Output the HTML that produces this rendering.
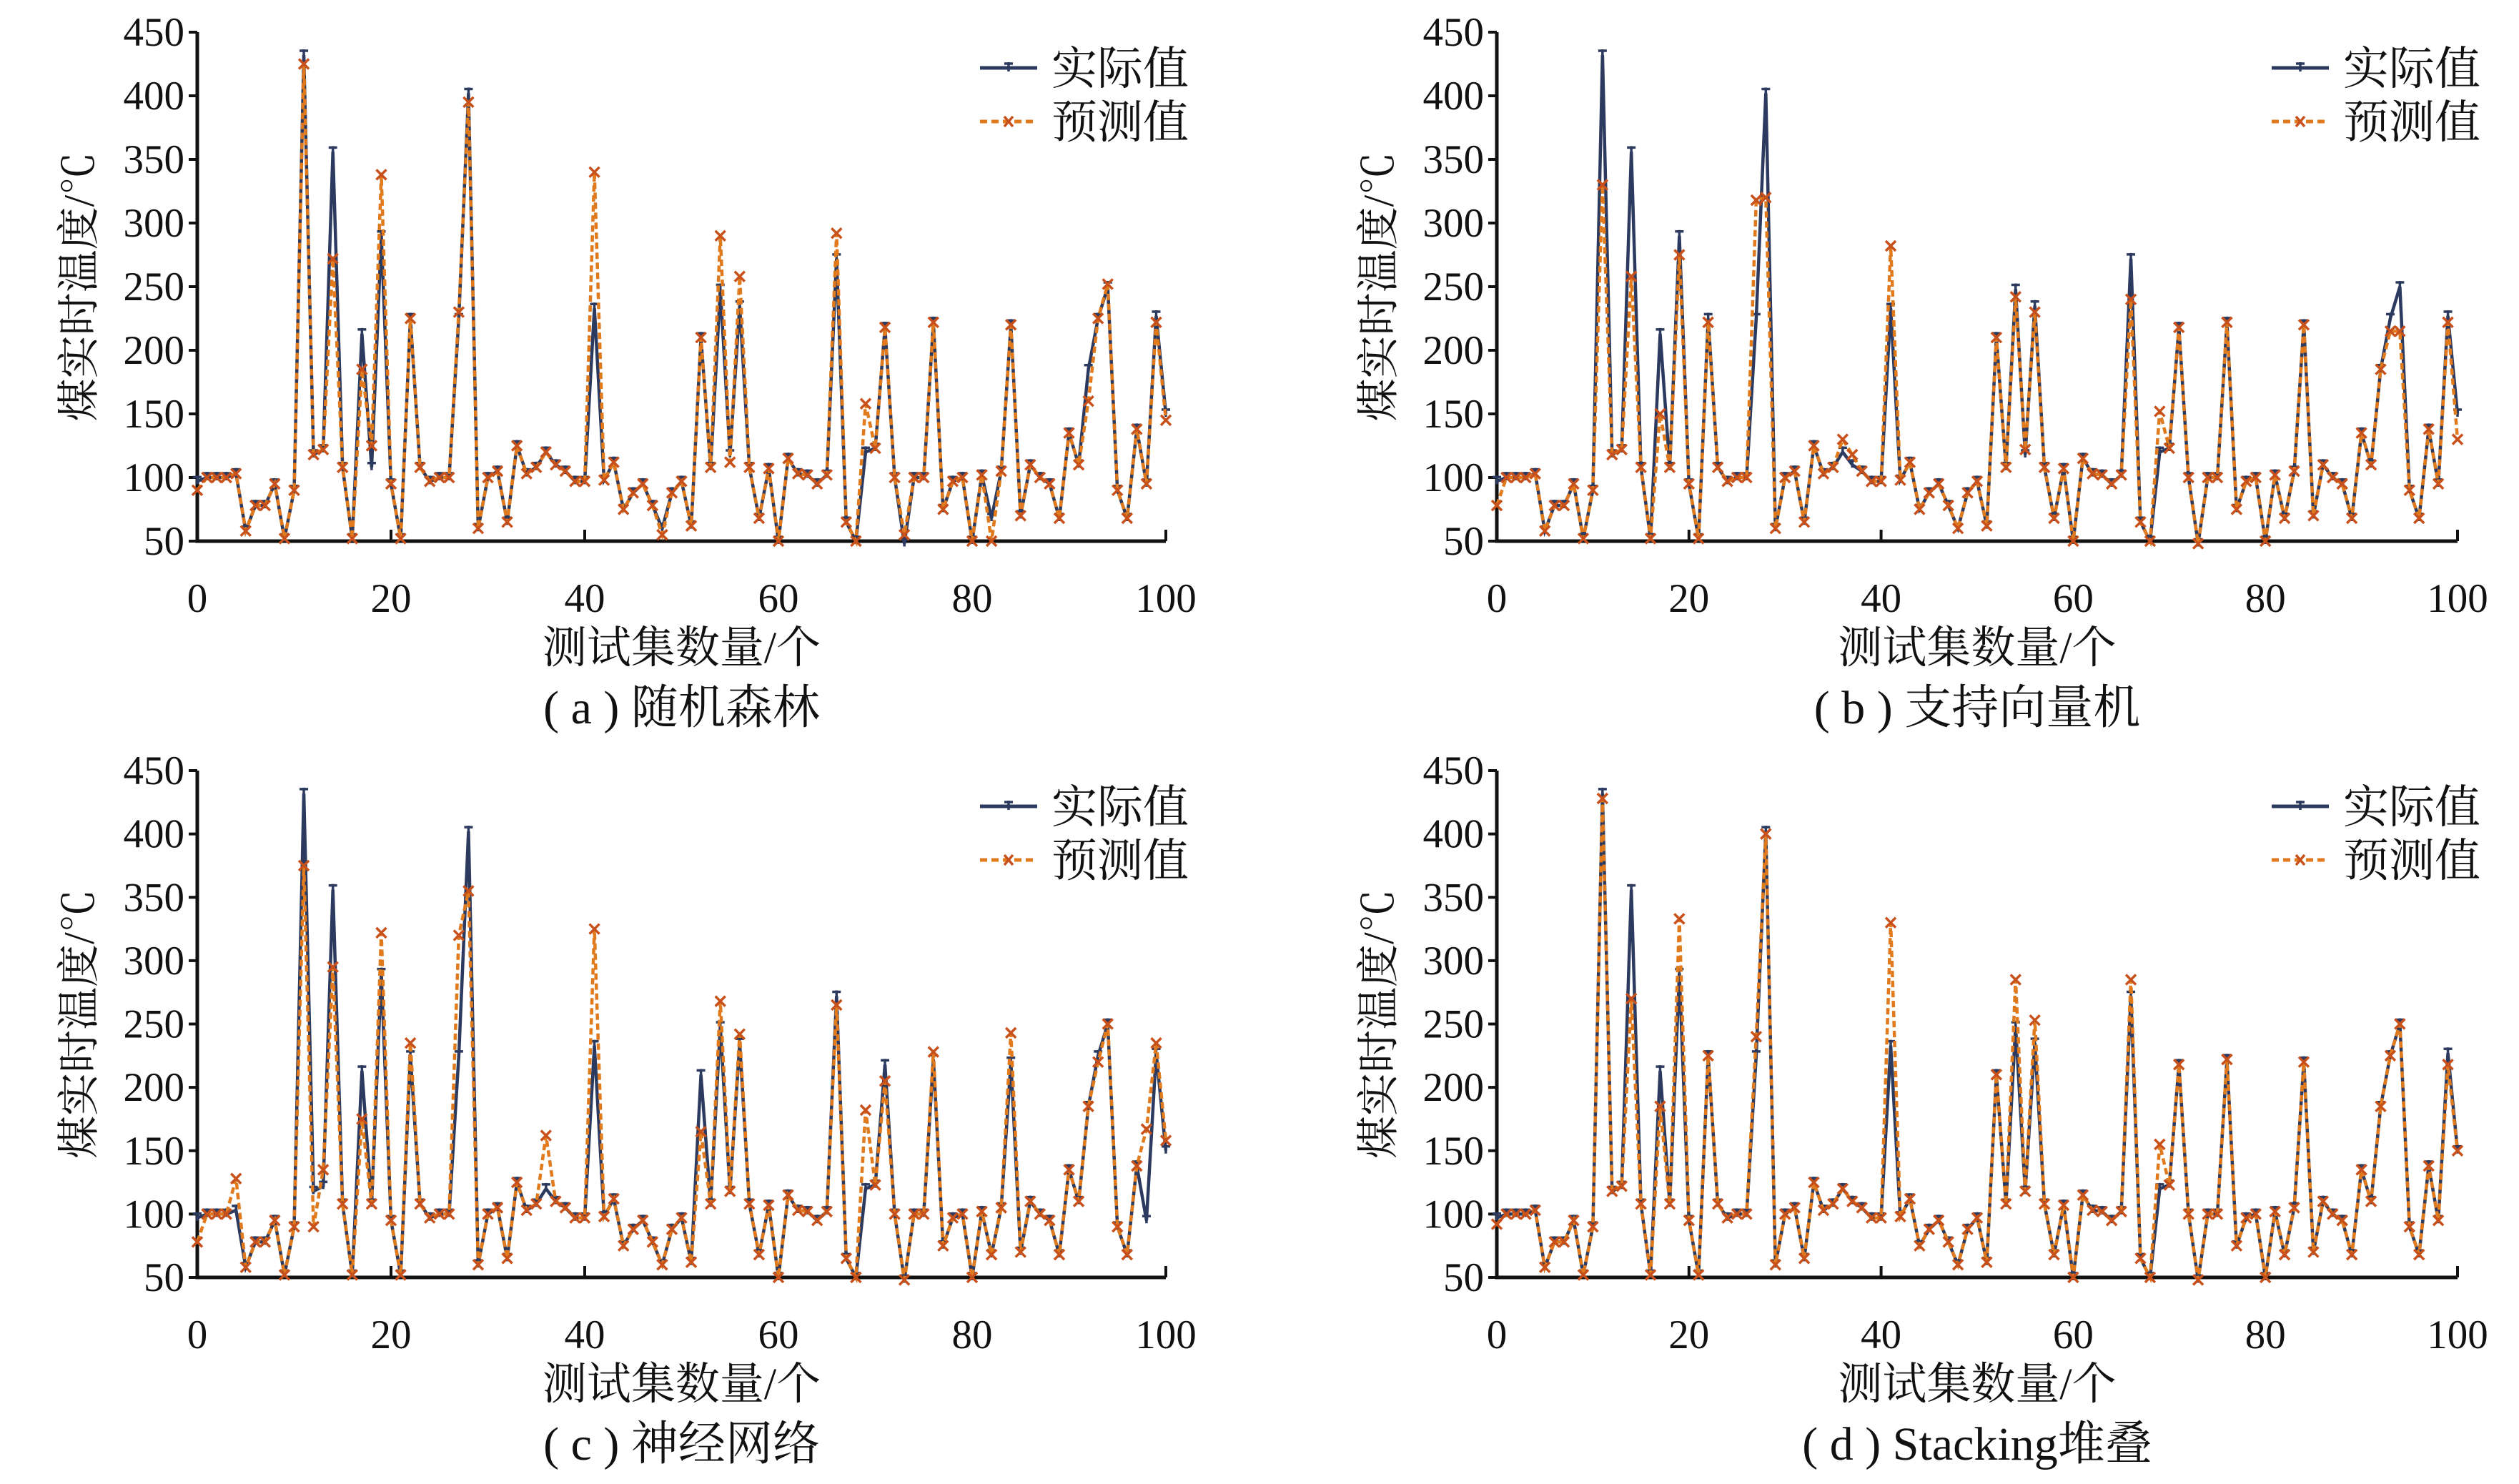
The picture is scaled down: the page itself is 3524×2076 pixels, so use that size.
<!DOCTYPE html>
<html><head><meta charset="utf-8">
<style>
html,body{margin:0;padding:0;background:#fff;}
svg{display:block;}
text{font-family:"Liberation Serif","Noto Serif CJK SC",serif;fill:#111;}
</style></head>
<body>
<svg id="chart" width="3524" height="2076" viewBox="0 0 3524 2076" xmlns="http://www.w3.org/2000/svg"></svg>
<script>
const yTicks=[50,100,150,200,250,300,350,400,450];
const xTicks=[0,20,40,60,80,100];
const actual=[97,100,100,100,103,58,78,78,95,52,90,432,118,122,356,108,52,213,108,290,95,52,225,108,97,100,100,225,402,60,100,105,65,125,103,108,120,110,105,97,97,233,98,112,75,88,95,78,60,88,97,62,210,108,248,118,235,108,68,107,50,115,103,102,95,102,272,65,50,120,123,218,100,48,100,100,222,75,97,100,50,102,68,105,220,70,110,100,95,68,135,110,185,225,250,90,68,138,95,227,150];
const predA={0:90,11:425,14:272,17:185,18:125,19:338,27:230,28:395,41:340,54:290,55:112,56:258,66:292,69:158,92:160,94:252,99:222,100:145,48:55,73:55,82:50};
const predB={0:78,11:330,14:258,17:150,19:275,22:222,27:318,28:320,36:130,37:118,41:282,54:242,55:122,56:230,66:240,69:152,93:215,94:215,99:222,100:130};
const predC={0:78,4:128,11:375,12:90,13:135,14:295,17:175,19:322,22:235,27:320,28:355,36:162,41:325,52:165,54:268,56:242,66:265,69:182,71:205,76:228,84:243,93:220,98:167,99:235,100:158};
const predD={0:92,11:428,14:270,17:185,19:333,27:240,28:400,41:330,54:285,56:253,66:285,69:155,99:218};
const captions=["( a ) 随机森林","( b ) 支持向量机","( c ) 神经网络","( d ) Stacking堆叠"];
const overrides=[predA,predB,predC,predD];

const NS="http://www.w3.org/2000/svg";
const svg=document.getElementById('chart');
function mk(tag,attrs,parent){const e=document.createElementNS(NS,tag);for(const k in attrs)e.setAttribute(k,attrs[k]);(parent||svg).appendChild(e);return e;}

const panels=[{x0:276,x1:1631,yT:45,yB:757},{x0:2094,x1:3438,yT:45,yB:757},{x0:276,x1:1631,yT:1078,yB:1787},{x0:2094,x1:3438,yT:1078,yB:1787}];
const names=["rf","svm","nn","stacking"];
panels.forEach((p,pi)=>{
  const g=mk('g',{});
  
  
  const xs=v=>p.x0+(p.x1-p.x0)*v/100;
  const ys=v=>p.yB-(p.yB-p.yT)*(v-50)/400;
  const ax=mk('path',{d:`M${p.x0} ${p.yT} V${p.yB} H${p.x1}`,stroke:'#111','stroke-width':5,fill:'none'},g);
  
  
  yTicks.forEach(t=>{
    mk('line',{x1:p.x0-12,x2:p.x0,y1:ys(t),y2:ys(t),stroke:'#111','stroke-width':4},g);
    const tx=mk('text',{x:p.x0-18,y:ys(t)+19,'text-anchor':'end','font-size':57},g);
    tx.textContent=t;
    
    
  });
  xTicks.forEach(t=>{
    mk('line',{x1:xs(t),x2:xs(t),y1:p.yB,y2:p.yB-16,stroke:'#111','stroke-width':4},g);
    const tx=mk('text',{x:xs(t),y:p.yB+99,'text-anchor':'middle','font-size':57},g);
    tx.textContent=t;
    
    
  });
  const yt=mk('text',{x:0,y:0,'text-anchor':'middle','font-size':60,transform:`translate(${p.x0-145},${(p.yT+p.yB)/2}) rotate(-90)`},g);
  yt.textContent='煤实时温度/℃';
  
  
  const xt=mk('text',{x:(p.x0+p.x1)/2,y:p.yB+170,'text-anchor':'middle','font-size':62},g);
  xt.textContent='测试集数量/个';
  
  
  const cap=mk('text',{x:(p.x0+p.x1)/2,y:p.yB+255,'text-anchor':'middle','font-size':66},g);
  cap.textContent=captions[pi];
  
  
  const pred=actual.map((v,i)=>overrides[pi][i]!==undefined?overrides[pi][i]:v);
  const la=mk('polyline',{points:actual.map((v,i)=>xs(i)+','+ys(v)).join(' '),fill:'none',stroke:'#2b3a5e','stroke-width':4.5},g);
  
  
  actual.forEach((v,i)=>{
    const m=mk('path',{d:`M${xs(i)-6} ${ys(v)-6}H${xs(i)+6}M${xs(i)} ${ys(v)-8}V${ys(v)+4}`,stroke:'#2b3a5e','stroke-width':3.5},g);
    
    
  });
  const lp=mk('polyline',{points:pred.map((v,i)=>xs(i)+','+ys(v)).join(' '),fill:'none',stroke:'#e07a1c','stroke-width':4.5,'stroke-dasharray':'9 5'},g);
  
  
  pred.forEach((v,i)=>{
    const x=xs(i),y=ys(v);
    const m=mk('path',{d:`M${x-7} ${y-7}L${x+7} ${y+7}M${x+7} ${y-7}L${x-7} ${y+7}`,stroke:'#c8501a','stroke-width':3.5},g);
    
    
  });
  const lg=mk('g',{},g);
  
  
  const lx=p.x1-260, l1=p.yT+50, l2=p.yT+125;
  mk('line',{x1:lx,x2:lx+80,y1:l1,y2:l1,stroke:'#2b3a5e','stroke-width':5},lg);
  mk('path',{d:`M${lx+34} ${l1-6}H${lx+46}M${lx+40} ${l1-8}V${l1+5}`,stroke:'#2b3a5e','stroke-width':3.5},lg);
  const t1=mk('text',{x:lx+100,y:l1+23,'font-size':64},lg);t1.textContent='实际值';
  
  
  mk('line',{x1:lx,x2:lx+80,y1:l2,y2:l2,stroke:'#e07a1c','stroke-width':5,'stroke-dasharray':'10 6'},lg);
  mk('path',{d:`M${lx+34} ${l2-7}L${lx+46} ${l2+7}M${lx+46} ${l2-7}L${lx+34} ${l2+7}`,stroke:'#c8501a','stroke-width':3.5},lg);
  const t2=mk('text',{x:lx+100,y:l2+23,'font-size':64},lg);t2.textContent='预测值';
  
  
});
</script>
</body></html>
